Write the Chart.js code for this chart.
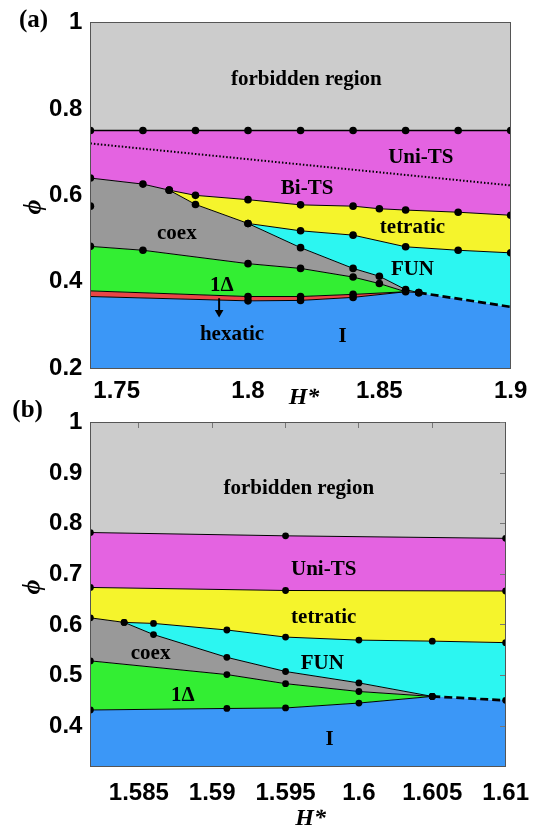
<!DOCTYPE html>
<html>
<head>
<meta charset="utf-8">
<script src="https://cdn.jsdelivr.net/npm/chart.js@4.4.0/dist/chart.umd.min.js"></script>
<style>
  html, body { margin: 0; padding: 0; background: #fff; }
  #wrap { position: relative; width: 541px; height: 834px; }
  canvas { position: absolute; left: 0; }
  #chartA { top: 0; }
  #chartB { top: 400px; }
</style>
</head>
<body>
<div id="wrap">
  <canvas id="chartA" width="541" height="410"></canvas>
  <canvas id="chartB" width="541" height="434"></canvas>
</div>
<script>
// ---------- panel (a): phase boundaries, [H*, phi] ----------
const aTicksX = [1.75, 1.8, 1.85, 1.9];
const aTicksY = [0.2, 0.4, 0.6, 0.8, 1];
const aForbid = [[1.74, 0.75], [1.76, 0.75], [1.78, 0.75], [1.8, 0.75], [1.82, 0.75],
                 [1.84, 0.75], [1.86, 0.75], [1.88, 0.75], [1.9, 0.75]];
const aUniBi = [[1.74, 0.72], [1.9, 0.623]];
const aBiTS = [[1.74, 0.640], [1.76, 0.626], [1.77, 0.612], [1.78, 0.600], [1.8, 0.590],
               [1.82, 0.578], [1.84, 0.575], [1.85, 0.569], [1.86, 0.566], [1.88, 0.561], [1.9, 0.554]];
const aCoexTop = [[1.77, 0.612], [1.78, 0.579], [1.8, 0.535], [1.82, 0.479], [1.84, 0.431],
                  [1.85, 0.413], [1.86, 0.382], [1.865, 0.375]];
const aTetFun = [[1.8, 0.535], [1.82, 0.518], [1.84, 0.508], [1.86, 0.481], [1.88, 0.473], [1.9, 0.467]];
const aCoexLow = [[1.74, 0.482], [1.76, 0.473], [1.8, 0.442], [1.82, 0.431], [1.84, 0.411],
                  [1.85, 0.396], [1.86, 0.377], [1.865, 0.375]];
const aDeltaLow = [[1.74, 0.379], [1.8, 0.366], [1.82, 0.366], [1.84, 0.371], [1.86, 0.377]];
const aHexLow = [[1.74, 0.366], [1.8, 0.356], [1.82, 0.357], [1.84, 0.364], [1.86, 0.377]];
const aFunLow = [[1.865, 0.375], [1.9, 0.342]];
const aEdge = [[1.74, 0.575]];
const aArrow = [[1.789, 0.362], [1.789, 0.329]];

// ---------- panel (b) ----------
const bTicksX = [1.585, 1.59, 1.595, 1.6, 1.605, 1.61];
const bTicksY = [0.4, 0.5, 0.6, 0.7, 0.8, 0.9, 1];
const bForbid = [[1.5817, 0.7825], [1.595, 0.776], [1.61, 0.771]];
const bUniTet = [[1.5817, 0.674], [1.595, 0.668], [1.61, 0.667]];
const bTetFun = [[1.5817, 0.614], [1.584, 0.605], [1.586, 0.603], [1.591, 0.590], [1.595, 0.576],
                 [1.6, 0.570], [1.605, 0.568], [1.61, 0.565]];
const bCoexTop = [[1.584, 0.605], [1.586, 0.581], [1.591, 0.536], [1.595, 0.508], [1.6, 0.4855], [1.605, 0.4588]];
const bCoexLow = [[1.5817, 0.529], [1.591, 0.502], [1.595, 0.484], [1.6, 0.4685], [1.605, 0.4588]];
const bDeltaLow = [[1.5817, 0.432], [1.591, 0.435], [1.595, 0.436], [1.6, 0.4457], [1.605, 0.4588]];
const bFunLow = [[1.605, 0.4588], [1.61, 0.451]];

const COLORS = {
  forbid: "#cccccc", uni: "#e463e1", tet: "#f5f42c", fun: "#2cf6f1",
  coex: "#999999", delta: "#33ee33", hex: "#e94646", iso: "#3b97f7"
};

// helpers
const rev = (arr) => arr.slice().reverse();
const between = (arr, x0, x1) => arr.filter((p) => p[0] >= x0 - 1e-9 && p[0] <= x1 + 1e-9);
const pts = (arr) => arr.map(([x, y]) => ({ x, y }));

function poly(data, color) {
  return {
    data: pts(data), showLine: true, fill: "shape", backgroundColor: color,
    borderWidth: 0, pointRadius: 0, order: 2
  };
}

function line(data, opts = {}) {
  return Object.assign({
    data: pts(data), showLine: true, fill: false, borderColor: "#000", borderWidth: 1,
    pointRadius: 3.6, pointBackgroundColor: "#000", pointBorderWidth: 0, order: 1
  }, opts);
}

function makeTexts(items) {
  return {
    id: "texts",
    afterDraw(chart) {
      const ctx = chart.ctx;
      const sx = chart.scales.x, sy = chart.scales.y;
      items.forEach((it) => {
        const px = it.data ? sx.getPixelForValue(it.at[0]) : it.at[0];
        const py = it.data ? sy.getPixelForValue(it.at[1]) : it.at[1];
        ctx.save();
        ctx.font = it.font;
        ctx.fillStyle = "#000";
        ctx.textAlign = "center";
        ctx.textBaseline = "middle";
        ctx.translate(px, py);
        if (it.rot) ctx.rotate(it.rot);
        ctx.fillText(it.text, 0, 0);
        ctx.restore();
      });
    }
  };
}

// short inward tick marks (MATLAB box style): grid lines faded out after a few px
function innerTick(vertical) {
  return (c) => {
    const a = c.chart.chartArea;
    if (!a) return "rgba(0,0,0,0)";
    const g = vertical
      ? c.chart.ctx.createLinearGradient(0, a.top, 0, a.top + 6)
      : c.chart.ctx.createLinearGradient(a.right, 0, a.right - 6, 0);
    g.addColorStop(0, "#777");
    g.addColorStop(0.95, "#777");
    g.addColorStop(1, "rgba(0,0,0,0)");
    return g;
  };
}

function buildScales(o) {
  const tickFont = { family: "'Liberation Sans', Arial", weight: "bold", size: 24 };
  const setTicks = (vals) => (s) => { s.ticks = vals.map((v) => ({ value: v })); };
  const border = { color: "#555", width: 1, z: 1 };
  return {
    x: {
      type: "linear", position: "bottom", min: o.xmin, max: o.xmax,
      afterBuildTicks: setTicks(o.xt), afterFit: (s) => { s.height = o.xh; },
      grid: { drawOnChartArea: false, drawTicks: false }, border,
      ticks: { z: 1, autoSkip: false, maxRotation: 0, padding: o.xpad, color: "#000", font: tickFont, callback: (v) => String(v) }
    },
    y: {
      type: "linear", position: "left", min: o.ymin, max: o.ymax,
      afterBuildTicks: setTicks(o.yt), afterFit: (s) => { s.width = 90.4; },
      grid: { drawOnChartArea: false, drawTicks: false }, border,
      ticks: { z: 1, padding: 8, color: "#000", font: tickFont, callback: (v) => String(v) }
    },
    x2: {
      axis: "x", type: "linear", position: "top", min: o.xmin, max: o.xmax,
      afterBuildTicks: setTicks(o.xt), afterFit: (s) => { s.height = 0; },
      ticks: { display: false },
      grid: { z: 1, drawOnChartArea: o.inner, drawTicks: false, color: innerTick(true) }, border
    },
    y2: {
      axis: "y", type: "linear", position: "right", min: o.ymin, max: o.ymax,
      afterBuildTicks: setTicks(o.yt), afterFit: (s) => { s.width = 0; },
      ticks: { display: false },
      grid: { z: 1, drawOnChartArea: o.inner, drawTicks: false, color: innerTick(false) }, border
    }
  };
}

const serifBold = "bold 21px 'Liberation Serif', 'Times New Roman', serif";
const axisFont = "italic bold 24px 'Liberation Serif', 'Times New Roman', serif";

// ---------- chart (a) ----------
const dotA = 3.8;
new Chart(document.getElementById("chartA"), {
  type: "scatter",
  data: {
    datasets: [
      line(aForbid, { borderWidth: 1.5, pointRadius: dotA }),
      line(aUniBi, { borderWidth: 2, borderDash: [1.5, 2], pointRadius: 0 }),
      line(aBiTS, { pointRadius: dotA }),
      line(aCoexTop, { pointRadius: dotA }),
      line(aTetFun, { pointRadius: dotA }),
      line(aCoexLow, { pointRadius: dotA }),
      line(aDeltaLow, { pointRadius: [0, dotA, dotA, dotA, 0] }),
      line(aHexLow, { pointRadius: [0, dotA, dotA, dotA, 0] }),
      line(aFunLow, { borderWidth: 2.7, borderDash: [8, 4], pointRadius: 0 }),
      line(aEdge, { showLine: false, pointRadius: dotA }),
      line(aArrow, { borderWidth: 2, pointRadius: [0, 5], pointStyle: "triangle", rotation: 180 }),
      poly([...aForbid, [1.9, 1], [1.74, 1]], COLORS.forbid),
      poly([...aForbid, ...rev(aBiTS)], COLORS.uni),
      poly([...between(aBiTS, 1.77, 1.9), ...rev(aTetFun), ...rev(between(aCoexTop, 1.77, 1.8))], COLORS.tet),
      poly([...aTetFun, ...rev(aFunLow), ...rev(between(aCoexTop, 1.8, 1.865))], COLORS.fun),
      poly([...between(aBiTS, 1.74, 1.77), ...aCoexTop, ...rev(aCoexLow)], COLORS.coex),
      poly([...aCoexLow, ...rev(aDeltaLow)], COLORS.delta),
      poly([...aDeltaLow, ...rev(aHexLow)], COLORS.hex),
      poly([...aHexLow, ...aFunLow, [1.9, 0.2], [1.74, 0.2]], COLORS.iso)
    ]
  },
  options: {
    responsive: false, animation: false,
    layout: { padding: { top: 21.7, right: 30.3, left: 0, bottom: 0 } },
    plugins: { legend: { display: false }, tooltip: { enabled: false } },
    events: [],
    scales: buildScales({ xmin: 1.74, xmax: 1.9, ymin: 0.2, ymax: 1, xt: aTicksX, yt: aTicksY, xh: 41.7, xpad: 9, inner: false })
  },
  plugins: [makeTexts([
    { text: "forbidden region", at: [1.8222, 0.867], data: true, font: serifBold },
    { text: "Uni-TS", at: [1.8658, 0.687], data: true, font: serifBold },
    { text: "Bi-TS", at: [1.8225, 0.615], data: true, font: serifBold },
    { text: "coex", at: [1.7729, 0.512], data: true, font: serifBold },
    { text: "tetratic", at: [1.8626, 0.5245], data: true, font: serifBold },
    { text: "FUN", at: [1.8626, 0.4285], data: true, font: serifBold },
    { text: "1Δ", at: [1.790, 0.392], data: true, font: serifBold },
    { text: "hexatic", at: [1.7939, 0.277], data: true, font: serifBold },
    { text: "I", at: [1.836, 0.273], data: true, font: serifBold },
    { text: "(a)", at: [33.5, 21], font: "bold 25px 'Liberation Serif', serif" },
    { text: "H*", at: [304, 398], font: axisFont },
    { text: "ϕ", at: [34.5, 207], font: "italic bold 26px 'Liberation Serif', serif", rot: -Math.PI / 2 }
  ])]
});

// ---------- chart (b) ----------
const dotB = 3.4;
new Chart(document.getElementById("chartB"), {
  type: "scatter",
  data: {
    datasets: [
      line(bForbid, { pointRadius: dotB }),
      line(bUniTet, { pointRadius: dotB }),
      line(bTetFun, { pointRadius: dotB }),
      line(bCoexTop, { pointRadius: dotB }),
      line(bCoexLow, { pointRadius: dotB }),
      line(bDeltaLow, { pointRadius: dotB }),
      line(bFunLow, { borderWidth: 2.7, borderDash: [8, 4], pointRadius: dotB }),
      poly([...bForbid, [1.61, 1], [1.5817, 1]], COLORS.forbid),
      poly([...bForbid, ...rev(bUniTet)], COLORS.uni),
      poly([...bUniTet, ...rev(bTetFun)], COLORS.tet),
      poly([...between(bTetFun, 1.584, 1.61), ...rev(bFunLow), ...rev(bCoexTop)], COLORS.fun),
      poly([...between(bTetFun, 1.5817, 1.584), ...bCoexTop.slice(1), ...rev(bCoexLow)], COLORS.coex),
      poly([...bCoexLow, ...rev(bDeltaLow)], COLORS.delta),
      poly([...bDeltaLow, ...bFunLow, [1.61, 0.32], [1.5817, 0.32]], COLORS.iso)
    ]
  },
  options: {
    responsive: false, animation: false,
    layout: { padding: { top: 18.3, right: 26.9, left: 0, bottom: 0 } },
    plugins: { legend: { display: false }, tooltip: { enabled: false } },
    events: [],
    scales: buildScales({ xmin: 1.5817, xmax: 1.61, ymin: 0.32, ymax: 1, xt: bTicksX, yt: bTicksY, xh: 67.3, xpad: 12, inner: true })
  },
  plugins: [makeTexts([
    { text: "forbidden region", at: [1.5959, 0.870], data: true, font: serifBold },
    { text: "Uni-TS", at: [1.5976, 0.7096], data: true, font: serifBold },
    { text: "tetratic", at: [1.5976, 0.6147], data: true, font: serifBold },
    { text: "coex", at: [1.5858, 0.543], data: true, font: serifBold },
    { text: "FUN", at: [1.5975, 0.5237], data: true, font: serifBold },
    { text: "1Δ", at: [1.588, 0.4607], data: true, font: serifBold },
    { text: "I", at: [1.598, 0.373], data: true, font: serifBold },
    { text: "(b)", at: [27.6, 11], font: "bold 25px 'Liberation Serif', serif" },
    { text: "H*", at: [310.6, 419], font: axisFont },
    { text: "ϕ", at: [33, 187], font: "italic bold 26px 'Liberation Serif', serif", rot: -Math.PI / 2 }
  ])]
});
</script>
</body>
</html>
